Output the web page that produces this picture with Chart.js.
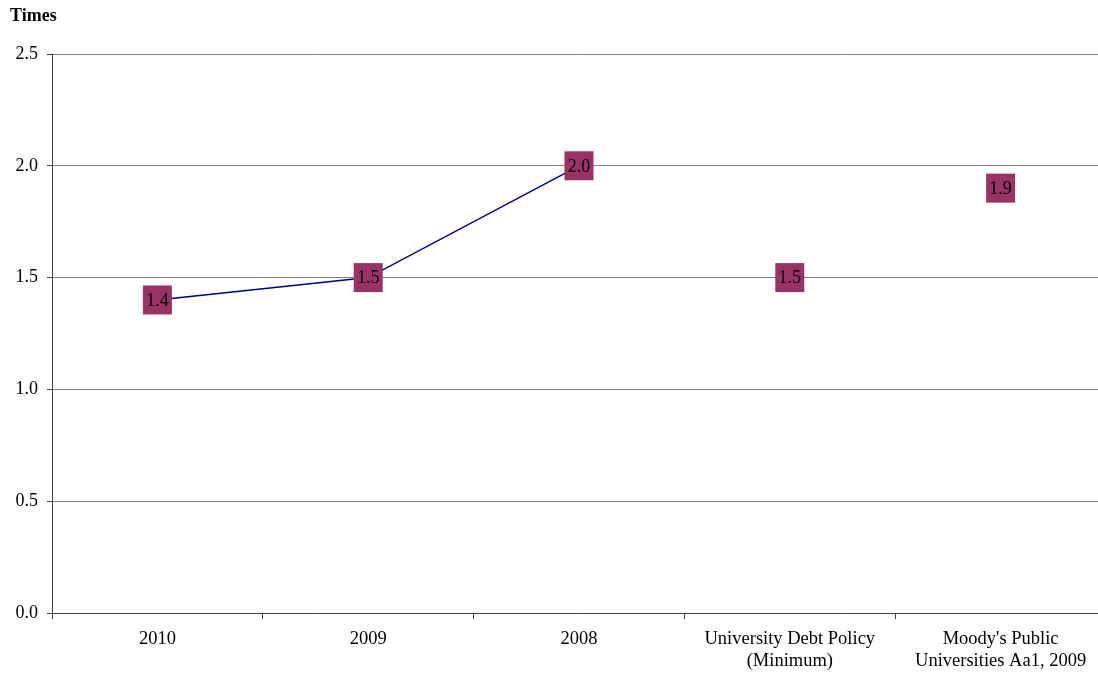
<!DOCTYPE html>
<html lang="en">
<head>
  <meta charset="UTF-8">
  <title>Debt Service Coverage – Times</title>
  <style>
    html, body {
      margin: 0;
      padding: 0;
      background: #ffffff;
      overflow: hidden;
    }
    .wrap {
      position: relative;
      width: 1098px;
      height: 677px;
      overflow: hidden;
    }
    .unit {
      position: absolute;
      left: 10px;
      top: 4px;
      font-family: "Liberation Serif", "Times New Roman", serif;
      font-weight: bold;
      font-size: 18px;
      line-height: 22px;
      color: #000;
    }
    canvas {
      position: absolute;
      left: 0;
      top: 0;
    }
  </style>
</head>
<body>
  <div class="wrap">
    <canvas id="chartTimes" width="1106" height="677"></canvas>
    <div class="unit">Times</div>
  </div>

  <script src="https://cdn.jsdelivr.net/npm/chart.js"></script>
  <script>
    // categories along the bottom
    const categories = [
      '2010',
      '2009',
      '2008',
      ['University Debt Policy', '(Minimum)'],
      ["Moody's Public", 'Universities Aa1, 2009']
    ];
    // historical ratios (joined by a line)
    const historyValues = [1.4, 1.5, 2.0, null, null];
    // benchmarks (markers only)
    const benchmarkValues = [null, null, null, 1.5, 1.9];
    const yTicks = [0, 0.5, 1.0, 1.5, 2.0, 2.5];

    const serif = '"Liberation Serif", "Times New Roman", serif';
    const markerColor = '#993366';

    // writes the value inside each square marker
    const valueLabels = {
      id: 'valueLabels',
      afterDatasetsDraw(chart) {
        const ctx = chart.ctx;
        ctx.save();
        ctx.font = '18px ' + serif;
        ctx.fillStyle = '#000000';
        ctx.textAlign = 'center';
        ctx.textBaseline = 'middle';
        chart.data.datasets.forEach((ds, i) => {
          const meta = chart.getDatasetMeta(i);
          meta.data.forEach((pt, j) => {
            const v = ds.data[j];
            if (v === null || v === undefined) return;
            ctx.fillText(v.toFixed(1), pt.x, pt.y + 1);
          });
        });
        ctx.restore();
      }
    };

    new Chart(document.getElementById('chartTimes'), {
      type: 'line',
      data: {
        labels: categories,
        datasets: [
          {
            data: historyValues,
            borderColor: '#000080',
            borderWidth: 1.5,
            pointStyle: 'rect',
            pointRadius: 20.5,
            pointBackgroundColor: markerColor,
            pointBorderWidth: 0,
            pointHoverRadius: 20.5,
            spanGaps: false,
            clip: false
          },
          {
            data: benchmarkValues,
            showLine: false,
            pointStyle: 'rect',
            pointRadius: 20.5,
            pointBackgroundColor: markerColor,
            pointBorderWidth: 0,
            pointHoverRadius: 20.5,
            clip: false
          }
        ]
      },
      options: {
        responsive: false,
        animation: false,
        events: [],
        layout: { autoPadding: false, padding: { top: 54, right: 0, left: 0, bottom: 0 } },
        plugins: {
          legend: { display: false },
          tooltip: { enabled: false },
          title: { display: false }
        },
        scales: {
          x: {
            offset: true,
            afterFit(scale) { scale.height = 64; },
            grid: {
              offset: true,
              drawOnChartArea: false,
              drawTicks: true,
              tickLength: 6,
              color: '#404040'
            },
            border: { color: '#404040', width: 1 },
            ticks: {
              color: '#000000',
              font: { family: serif, size: 18.5, lineHeight: 1.15 },
              maxRotation: 0,
              autoSkip: false,
              padding: 10
            }
          },
          y: {
            min: 0,
            max: 2.5,
            afterFit(scale) { scale.width = 52; },
            afterBuildTicks(scale) {
              scale.ticks = yTicks.map(v => ({ value: v }));
            },
            grid: {
              color: '#808080',
              lineWidth: 1,
              drawTicks: true,
              tickLength: 5,
              tickColor: '#404040'
            },
            border: { color: '#404040', width: 1 },
            ticks: {
              color: '#000000',
              font: { family: serif, size: 18 },
              padding: 9,
              callback: v => v.toFixed(1)
            }
          }
        }
      },
      plugins: [valueLabels]
    });
  </script>
</body>
</html>
